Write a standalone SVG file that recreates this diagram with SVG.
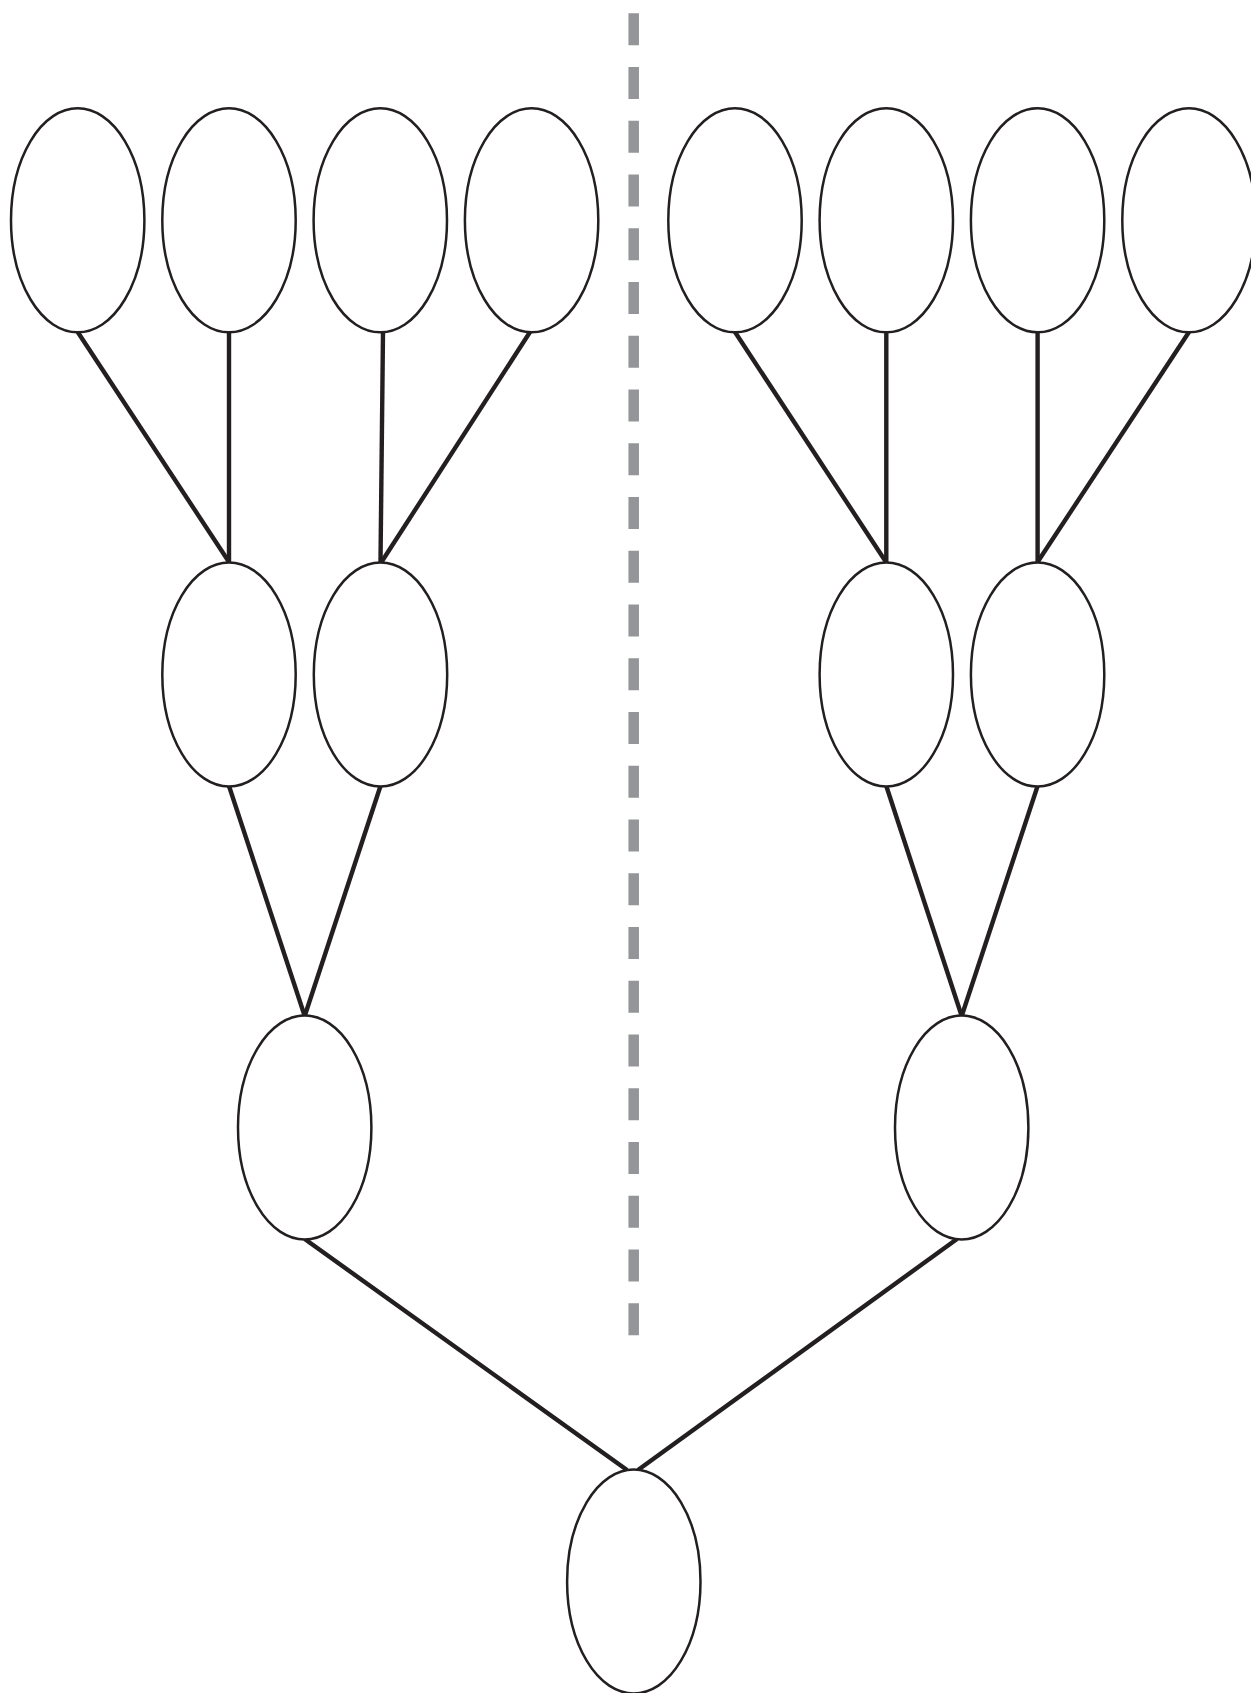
<svg xmlns="http://www.w3.org/2000/svg" width="1251" height="1693" viewBox="0 0 1251 1693">
<style>
.node{fill:#fff;stroke:#231f20;stroke-width:2.5}
.edge{stroke:#231f20;stroke-width:4.4;fill:none}
.divider{stroke:#939598;stroke-width:10.5;stroke-dasharray:32 21.75;fill:none}
</style>
<rect width="1251" height="1693" fill="#fff"/>
<line class="divider" x1="633.7" y1="13.3" x2="633.7" y2="1336"/>
<g id="connectors">
<line class="edge" x1="77.7" y1="332" x2="229" y2="562"/>
<line class="edge" x1="229" y1="332" x2="229" y2="562"/>
<line class="edge" x1="383" y1="332" x2="380.5" y2="562"/>
<line class="edge" x1="530" y1="332" x2="381.5" y2="562"/>
<line class="edge" x1="735" y1="332" x2="886" y2="562"/>
<line class="edge" x1="886.3" y1="332" x2="886.3" y2="562"/>
<line class="edge" x1="1037.6" y1="332" x2="1037.6" y2="562"/>
<line class="edge" x1="1189" y1="332" x2="1037.6" y2="562"/>
<line class="edge" x1="229" y1="786" x2="304.7" y2="1016"/>
<line class="edge" x1="380.5" y1="786" x2="304.7" y2="1016"/>
<line class="edge" x1="886.3" y1="786" x2="961.7" y2="1016"/>
<line class="edge" x1="1037.6" y1="786" x2="961.7" y2="1016"/>
<line class="edge" x1="304.7" y1="1239" x2="627" y2="1470"/>
<line class="edge" x1="957" y1="1239" x2="638" y2="1470"/>
</g>
<g id="n1"><ellipse class="node" cx="77.7" cy="220.3" rx="66.7" ry="112"/></g>
<g id="n2"><ellipse class="node" cx="229" cy="220.3" rx="66.7" ry="112"/></g>
<g id="n3"><ellipse class="node" cx="380.3" cy="220.3" rx="66.7" ry="112"/></g>
<g id="n4"><ellipse class="node" cx="531.6" cy="220.3" rx="66.7" ry="112"/></g>
<g id="n5"><ellipse class="node" cx="735" cy="220.3" rx="66.7" ry="112"/></g>
<g id="n6"><ellipse class="node" cx="886.3" cy="220.3" rx="66.7" ry="112"/></g>
<g id="n7"><ellipse class="node" cx="1037.6" cy="220.3" rx="66.7" ry="112"/></g>
<g id="n8"><ellipse class="node" cx="1189" cy="220.3" rx="66.7" ry="112"/></g>
<g id="n9"><ellipse class="node" cx="229" cy="674.5" rx="66.7" ry="112"/></g>
<g id="n10"><ellipse class="node" cx="380.5" cy="674.5" rx="66.7" ry="112"/></g>
<g id="n11"><ellipse class="node" cx="886.3" cy="674.5" rx="66.7" ry="112"/></g>
<g id="n12"><ellipse class="node" cx="1037.6" cy="674.5" rx="66.7" ry="112"/></g>
<g id="n13"><ellipse class="node" cx="304.7" cy="1127.5" rx="66.7" ry="112"/></g>
<g id="n14"><ellipse class="node" cx="961.7" cy="1127.5" rx="66.7" ry="112"/></g>
<g id="n15"><ellipse class="node" cx="633.8" cy="1581.5" rx="66.7" ry="112"/></g>
</svg>
